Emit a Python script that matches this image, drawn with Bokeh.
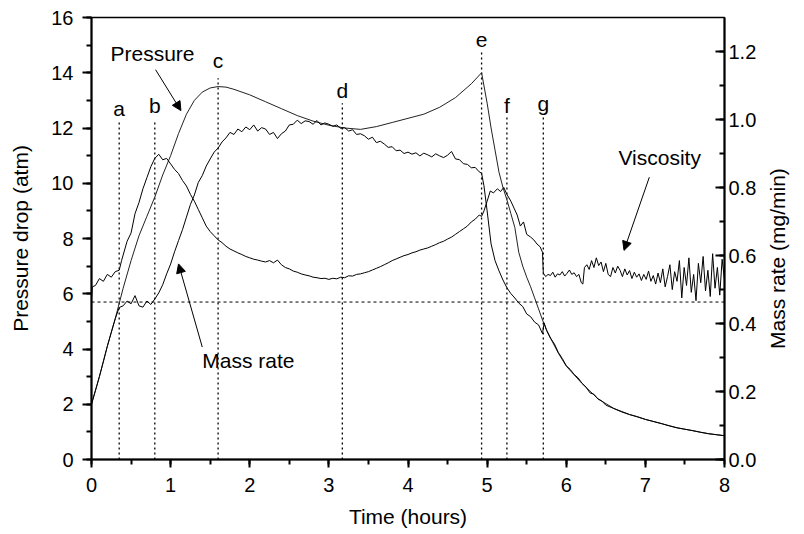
import math
from bokeh.plotting import figure
from bokeh.models import (Range1d, LinearAxis, SingleIntervalTicker, PrintfTickFormatter,
                          FixedTicker, Span, Label, Arrow, NormalHead, ColumnDataSource)
from bokeh.embed import file_html
from bokeh.resources import INLINE

FONT = "Liberation Sans"

# ---------------- data ----------------
# Pressure drop (atm), smooth curve
p_time = [0.0, 0.1, 0.2, 0.3, 0.4, 0.5, 0.6, 0.7, 0.8, 0.9, 1.0, 1.1, 1.2, 1.3, 1.4, 1.5,
          1.6, 1.7, 1.8, 2.0, 2.2, 2.4, 2.6, 2.8, 3.0, 3.2, 3.4, 3.6, 3.8, 4.0, 4.2, 4.4,
          4.6, 4.8, 4.93, 5.0, 5.05, 5.1, 5.15, 5.2, 5.25, 5.3, 5.35, 5.4, 5.45, 5.5, 5.55,
          5.6, 5.65, 5.7, 5.75, 5.8, 5.9, 6.0, 6.2, 6.4, 6.6, 6.8, 7.0, 7.2, 7.4, 7.6, 7.8, 8.0]
p_value = [2.0, 3.0, 4.1, 5.1, 6.2, 7.2, 8.1, 8.8, 9.5, 10.3, 11.0, 11.8, 12.5, 13.0, 13.3, 13.45,
           13.5, 13.48, 13.4, 13.2, 12.95, 12.7, 12.45, 12.25, 12.1, 12.0, 11.95, 12.05, 12.2, 12.35, 12.5, 12.75,
           13.1, 13.6, 14.0, 12.9, 12.0, 11.2, 10.4, 9.85, 9.4, 8.9, 8.4, 7.5, 7.0, 6.6, 6.25,
           5.85, 5.45, 5.05, 4.7, 4.4, 3.85, 3.38, 2.75, 2.2, 1.85, 1.63, 1.45, 1.3, 1.15, 1.04, 0.93, 0.86]

# Mass rate (mg/min), noisy curve
m_time = [0.00, 0.05, 0.10, 0.15, 0.20, 0.25, 0.30, 0.35, 0.40, 0.45, 0.50, 0.55, 0.60, 0.65,
          0.70, 0.75, 0.80, 0.85, 0.90, 0.95, 1.00, 1.05, 1.10, 1.15, 1.20, 1.25, 1.30, 1.35,
          1.40, 1.45, 1.50, 1.55, 1.60, 1.65, 1.70, 1.75, 1.80, 1.85, 1.90, 1.95, 2.00, 2.05,
          2.10, 2.15, 2.20, 2.25, 2.30, 2.35, 2.40, 2.45, 2.50, 2.55, 2.60, 2.65, 2.70, 2.75,
          2.80, 2.85, 2.90, 2.95, 3.00, 3.05, 3.10, 3.15, 3.20, 3.25, 3.30, 3.35, 3.40, 3.45,
          3.50, 3.55, 3.60, 3.65, 3.70, 3.75, 3.80, 3.85, 3.90, 3.95, 4.00, 4.05, 4.10, 4.15,
          4.20, 4.25, 4.30, 4.35, 4.40, 4.45, 4.50, 4.55, 4.60, 4.65, 4.70, 4.75, 4.80, 4.85,
          4.90, 4.93, 4.96, 5.00, 5.05, 5.10, 5.15, 5.20, 5.25, 5.30, 5.35, 5.40, 5.45, 5.50,
          5.55, 5.60, 5.65, 5.70, 5.72, 5.75, 5.80, 5.85, 5.90, 5.95, 6.00, 6.05, 6.10, 6.15,
          6.20, 6.25, 6.30, 6.35, 6.40, 6.45, 6.50, 6.60, 6.70, 6.80, 6.90, 7.00, 7.10, 7.20,
          7.30, 7.40, 7.50, 7.60, 7.70, 7.80, 7.90, 8.00]
m_value = [0.163, 0.203, 0.244, 0.288, 0.333, 0.374, 0.414, 0.447, 0.452, 0.466, 0.458, 0.482, 0.452, 0.448,
           0.466, 0.456, 0.472, 0.490, 0.514, 0.546, 0.575, 0.611, 0.644, 0.676, 0.713, 0.750, 0.778, 0.815,
           0.835, 0.863, 0.884, 0.904, 0.916, 0.934, 0.946, 0.962, 0.956, 0.972, 0.964, 0.978, 0.970, 0.984,
           0.966, 0.976, 0.972, 0.956, 0.962, 0.944, 0.958, 0.966, 0.984, 0.986, 0.998, 0.988, 0.996, 0.994,
           0.986, 0.997, 0.984, 0.990, 0.986, 0.980, 0.984, 0.974, 0.976, 0.966, 0.970, 0.956, 0.958, 0.952,
           0.942, 0.948, 0.932, 0.936, 0.928, 0.918, 0.920, 0.908, 0.910, 0.900, 0.904, 0.898, 0.902, 0.893,
           0.901, 0.896, 0.890, 0.899, 0.893, 0.888, 0.895, 0.906, 0.884, 0.882, 0.870, 0.868, 0.858, 0.859,
           0.846, 0.842, 0.805, 0.731, 0.634, 0.585, 0.555, 0.528, 0.505, 0.488, 0.475, 0.460, 0.450, 0.428,
           0.420, 0.404, 0.396, 0.370, 0.402, 0.380, 0.357, 0.340, 0.315, 0.297, 0.276, 0.265, 0.250, 0.240,
           0.224, 0.213, 0.196, 0.192, 0.178, 0.172, 0.160, 0.150, 0.140, 0.132, 0.126, 0.118, 0.112, 0.106,
           0.099, 0.093, 0.089, 0.085, 0.080, 0.076, 0.073, 0.070]

# Viscosity (arbitrary units, drawn against the left scale), noisy curve
v_time = [0.00, 0.01, 0.05, 0.10, 0.15, 0.20, 0.25, 0.30, 0.35, 0.38, 0.40, 0.45, 0.50, 0.55,
          0.60, 0.65, 0.70, 0.75, 0.80, 0.85, 0.90, 0.95, 1.00, 1.05, 1.10, 1.15, 1.20, 1.25,
          1.30, 1.35, 1.40, 1.45, 1.50, 1.55, 1.60, 1.65, 1.70, 1.75, 1.80, 1.85, 1.90, 1.95,
          2.00, 2.05, 2.10, 2.15, 2.20, 2.25, 2.30, 2.35, 2.40, 2.45, 2.50, 2.55, 2.60, 2.65,
          2.70, 2.75, 2.80, 2.85, 2.90, 2.95, 3.00, 3.05, 3.10, 3.15, 3.20, 3.25, 3.30, 3.35,
          3.40, 3.45, 3.50, 3.55, 3.60, 3.65, 3.70, 3.75, 3.80, 3.85, 3.90, 3.95, 4.00, 4.05,
          4.10, 4.15, 4.20, 4.25, 4.30, 4.35, 4.40, 4.45, 4.50, 4.55, 4.60, 4.65, 4.70, 4.75,
          4.80, 4.85, 4.90, 4.93, 4.96, 5.00, 5.04, 5.08, 5.13, 5.17, 5.21, 5.25, 5.30, 5.34,
          5.38, 5.42, 5.46, 5.50, 5.55, 5.59, 5.63, 5.67, 5.70, 5.71, 5.74, 5.77, 5.80, 5.83,
          5.86, 5.89, 5.92, 5.95, 5.98, 6.01, 6.04, 6.07, 6.10, 6.13, 6.16, 6.19, 6.21, 6.23,
          6.26, 6.29, 6.32, 6.35, 6.38, 6.41, 6.44, 6.47, 6.50, 6.53, 6.56, 6.59, 6.62, 6.65,
          6.68, 6.71, 6.74, 6.77, 6.80, 6.83, 6.86, 6.89, 6.92, 6.95, 6.98, 7.01, 7.04, 7.07,
          7.10, 7.13, 7.16, 7.19, 7.22, 7.25, 7.28, 7.31, 7.34, 7.37, 7.40, 7.43, 7.46, 7.49,
          7.52, 7.55, 7.58, 7.61, 7.64, 7.67, 7.70, 7.73, 7.76, 7.79, 7.82, 7.85, 7.88, 7.91,
          7.94, 7.97, 8.00]
v_value = [5.8, 6.25, 6.3, 6.55, 6.45, 6.7, 6.6, 6.8, 6.85, 7.2, 7.4, 7.9, 8.2, 8.9,
           9.3, 9.8, 10.2, 10.6, 10.9, 11.05, 10.85, 10.9, 10.7, 10.5, 10.35, 10.1, 9.9, 9.6,
           9.35, 9.05, 8.75, 8.45, 8.25, 8.1, 7.95, 7.85, 7.72, 7.62, 7.55, 7.48, 7.42, 7.35,
           7.3, 7.25, 7.22, 7.18, 7.15, 7.2, 7.12, 7.22, 7.05, 6.95, 6.9, 6.82, 6.78, 6.72,
           6.68, 6.65, 6.6, 6.58, 6.55, 6.56, 6.52, 6.56, 6.54, 6.6, 6.58, 6.65, 6.64, 6.7,
           6.72, 6.76, 6.8, 6.86, 6.92, 6.98, 7.05, 7.12, 7.2, 7.26, 7.32, 7.38, 7.42, 7.48,
           7.52, 7.58, 7.62, 7.66, 7.72, 7.78, 7.85, 7.9, 7.98, 8.05, 8.15, 8.25, 8.35, 8.45,
           8.6, 8.7, 8.85, 8.8, 9.0, 9.35, 9.72, 9.65, 9.8, 9.7, 9.85, 9.6, 9.35, 9.1,
           8.85, 8.45, 8.6, 8.15, 8.05, 7.95, 7.8, 7.7, 7.5, 6.75, 6.62, 6.70, 6.66, 6.78,
           6.60, 6.72, 6.68, 6.80, 6.64, 6.74, 6.86, 6.70, 6.76, 6.62, 6.70, 6.40, 6.35, 6.95,
           7.05, 6.88, 7.20, 6.95, 7.30, 7.02, 7.15, 6.80, 7.10, 6.70, 6.62, 6.95, 6.75, 7.00,
           6.85, 6.62, 6.90, 6.68, 6.84, 6.55, 6.78, 6.60, 6.72, 6.48, 6.70, 6.52, 6.82, 6.45,
           6.66, 6.35, 6.75, 6.40, 6.90, 6.25, 6.62, 7.05, 6.15, 6.80, 6.45, 7.20, 5.85, 6.95,
           6.30, 7.30, 6.05, 6.70, 5.75, 7.10, 6.40, 7.35, 6.10, 6.85, 5.90, 7.45, 6.20, 6.95,
           5.95, 7.25, 6.50]

# Event markers a-g
event_names = ["a", "b", "c", "d", "e", "f", "g"]
event_time = [0.35, 0.8, 1.6, 3.17, 4.93, 5.25, 5.71]
event_top = [12.2, 12.2, 13.8, 12.9, 14.8, 12.45, 12.4]
event_label_y = [12.72, 12.83, 14.46, 13.34, 15.18, 12.83, 12.87]

ref_level = 5.7  # horizontal dashed reference line (atm)

# ---------------- figure ----------------
p = figure(width=804, height=532, x_range=Range1d(0, 8), y_range=Range1d(0, 16),
           output_backend="svg", toolbar_location=None,
           min_border_left=91, min_border_right=80, min_border_top=17, min_border_bottom=73)
p.extra_y_ranges = {"mass": Range1d(0, 1.3)}

p.xgrid.visible = False
p.ygrid.visible = False
p.outline_line_color = "black"
p.outline_line_width = 1.5
p.background_fill_color = "white"
p.border_fill_color = "white"

def style_axis(ax, tick_in=False):
    ax.axis_line_width = 2
    ax.axis_line_color = "black"
    ax.major_tick_line_width = 2
    ax.minor_tick_line_width = 2
    if tick_in:
        ax.major_tick_in = 9
        ax.major_tick_out = 0
        ax.minor_tick_in = 5
        ax.minor_tick_out = 0
    else:
        ax.major_tick_in = 0
        ax.major_tick_out = 9
        ax.minor_tick_in = 0
        ax.minor_tick_out = 5
    ax.major_label_text_font = FONT
    ax.major_label_text_font_size = "20px"
    ax.major_label_text_color = "black"
    ax.axis_label_text_font = FONT
    ax.axis_label_text_font_size = "21px"
    ax.axis_label_text_font_style = "normal"
    ax.axis_label_text_color = "black"

xa = p.xaxis[0]
xa.ticker = SingleIntervalTicker(interval=1, num_minor_ticks=2)
xa.axis_label = "Time (hours)"
style_axis(xa)
xa.major_tick_out = 8
xa.major_label_standoff = 10
xa.axis_label_standoff = 10

ya = p.yaxis[0]
ya.ticker = SingleIntervalTicker(interval=2, num_minor_ticks=2)
ya.axis_label = "Pressure drop (atm)"
style_axis(ya)
ya.major_label_standoff = 9
ya.axis_label_standoff = 16

ra = LinearAxis(y_range_name="mass",
                ticker=SingleIntervalTicker(interval=0.2, num_minor_ticks=2),
                formatter=PrintfTickFormatter(format="%.1f"))
style_axis(ra, tick_in=True)
ra.major_label_standoff = 4
p.add_layout(ra, "right")

# right-hand title: a bare axis whose single label is the title text,
# rotated to read bottom-to-top and starting at the given left-scale level
title_start = 4
ta = LinearAxis(ticker=FixedTicker(ticks=[title_start], minor_ticks=[]),
                major_label_overrides={title_start: "Mass rate (mg/min)"},
                major_label_orientation=math.pi / 2)
ta.axis_line_color = None
ta.major_tick_line_color = None
ta.minor_tick_line_color = None
ta.major_tick_in = 0
ta.major_tick_out = 0
ta.major_label_standoff = 18
ta.major_label_text_font = FONT
ta.major_label_text_font_size = "21px"
ta.major_label_text_color = "black"
p.add_layout(ta, "right")

# reference line
p.add_layout(Span(location=ref_level, dimension="width", line_color="black",
                  line_width=1, line_dash="3 3"))

# event lines
ev = ColumnDataSource(dict(x=event_time, top=event_top, bottom=[0] * len(event_time),
                           ly=event_label_y, name=event_names))
p.segment(x0="x", y0="bottom", x1="x", y1="top", source=ev, line_color="black",
          line_width=1.3, line_dash="2 3")
p.text(x="x", y="ly", text="name", source=ev, text_align="center",
       text_baseline="alphabetic", text_font_size="21px", text_color="black",
       text_font={"value": FONT})

# curves
p.line(p_time, p_value, line_color="#222222", line_width=1)
p.line(m_time, m_value, y_range_name="mass", line_color="black", line_width=1)
p.line(v_time, v_value, line_color="black", line_width=1)

# annotations
def add_label(x, y, text):
    p.add_layout(Label(x=x, y=y, text=text, text_font=FONT, text_font_size="21px",
                       text_color="black", text_baseline="alphabetic", text_align="left"))

add_label(0.24, 14.68, "Pressure")
add_label(1.40, 3.57, "Mass rate")
add_label(6.66, 10.95, "Viscosity")

def add_arrow(x0, y0, x1, y1):
    p.add_layout(Arrow(end=NormalHead(size=9, fill_color="black", line_color="black"),
                       x_start=x0, y_start=y0, x_end=x1, y_end=y1,
                       line_color="black", line_width=1))

add_arrow(0.81, 14.11, 1.13, 12.63)
add_arrow(1.40, 4.07, 1.10, 7.08)
add_arrow(7.05, 10.22, 6.73, 7.57)

open("out.html", "w").write(file_html(p, INLINE))
